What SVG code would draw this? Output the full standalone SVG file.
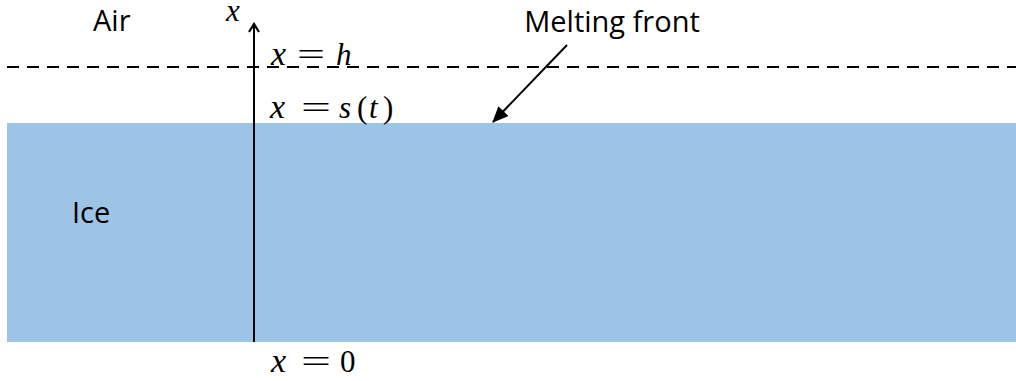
<svg xmlns="http://www.w3.org/2000/svg" width="1016" height="381" viewBox="0 0 1016 381">
<style>
.lbl{font-family:"Open Sans","Liberation Sans",sans-serif;font-size:29px;fill:#000}
.m{font-family:"Liberation Serif","DejaVu Serif",serif;font-size:31px;fill:#000}
.i{font-style:italic}
.x{font-size:34px}
</style>
<defs>
<marker id="ah" markerWidth="12" markerHeight="12" refX="10" refY="6" orient="auto" markerUnits="userSpaceOnUse">
<path d="M2,1 L10,6 L2,11" fill="none" stroke="#000" stroke-width="2.2"/>
</marker>
<marker id="ah2" markerWidth="16" markerHeight="14" refX="15" refY="7" orient="auto" markerUnits="userSpaceOnUse">
<path d="M0,0 L16,7 L0,14 Z" fill="#000"/>
</marker>
</defs>
<g id="ice"><rect x="7" y="123" width="1009" height="219" fill="#9dc3e6"/><text class="lbl" x="72" y="223">Ice</text></g>
<g id="air"><text class="lbl" x="93" y="31">Air</text></g>
<g id="connectors">
<line x1="7" y1="67" x2="1016" y2="67" stroke="#000" stroke-width="2" stroke-dasharray="12 8"/>
<line x1="254" y1="342" x2="254" y2="24" stroke="#000" stroke-width="2" marker-end="url(#ah)"/>
<line x1="567" y1="45" x2="493" y2="122" stroke="#000" stroke-width="2" marker-end="url(#ah2)"/>
</g>
<g id="axis-label"><text class="m i" x="226" y="21">x</text></g>
<g id="h-label">
<text class="m i x" x="271" y="65">x</text>
<text class="m" x="297" y="65" textLength="28" lengthAdjust="spacingAndGlyphs">=</text>
<text class="m i" x="336" y="65">h</text>
</g>
<g id="s-label">
<text class="m i x" x="270" y="118">x</text>
<text class="m" x="301" y="118" textLength="30" lengthAdjust="spacingAndGlyphs">=</text>
<text class="m i" x="339" y="118">s</text>
<text class="m" x="357" y="118">(</text>
<text class="m i" x="369" y="118">t</text>
<text class="m" x="383" y="118">)</text>
</g>
<g id="zero-label">
<text class="m i x" x="271" y="372">x</text>
<text class="m" x="301" y="372" textLength="30" lengthAdjust="spacingAndGlyphs">=</text>
<text class="m" x="340" y="372">0</text>
</g>
<g id="front"><text class="lbl" x="612" y="32" text-anchor="middle">Melting front</text></g>
</svg>
